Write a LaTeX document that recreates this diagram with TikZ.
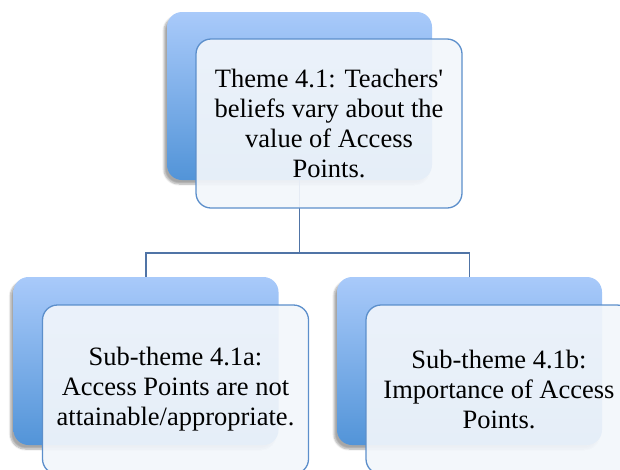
\documentclass[tikz,border=0pt]{standalone}
\usepackage{fontspec}
\setmainfont{Liberation Serif}
\usepackage{tikz}
\usetikzlibrary {positioning,
                 shadows.blur}
\definecolor{backtop}{RGB}{169,202,250}
\definecolor{backbottom}{RGB}{82,148,216}
\definecolor{frontfill}{RGB}{242,246,251}
\definecolor{frontline}{RGB}{92,143,203}
\definecolor{connline}{RGB}{80,116,166}
\tikzset{
        base/.style={rounded corners=15pt, inner sep=0pt,
                     minimum width=265pt, minimum height=168pt},
        backbox/.style={base, top color=backtop, bottom color=backbottom,
                        blur shadow={shadow xshift=-3pt, shadow yshift=-4pt,
                                     shadow opacity=35, shadow blur steps=8}},
        frontbox/.style={base, minimum width=266pt, minimum height=169pt,
                         draw=frontline, line width=1.3pt,
                         fill=frontfill, fill opacity=0.92, text opacity=1,
                         align=center, font=\fontsize{26.5}{30}\selectfont},
        conn/.style={draw=connline, line width=1.6pt},
 }
\begin{document}
\begin{tikzpicture}[x=1pt, y=-1pt]
    \useasboundingbox (0,0) rectangle (620,469);

    \node[backbox] (tb) at (299.5,96) {};
    \node[backbox] (lb) at (146,361) {};
    \node[backbox] (rb) at (469.5,361) {};

    \draw[conn] (tb.south) -- ++(0,73) coordinate (split) -| (lb.north);
    \draw[conn] (split) -| (rb.north);

    \node[frontbox] (t) at (329,123.5) {Theme 4.1: Teachers\textquotesingle\\ beliefs vary about the\\ value of Access\\ Points.};
    \node[frontbox] (l) at (175.5,389.5) {Sub-theme 4.1a:\\ Access Points are not\\ attainable/appropriate.};
    \node[frontbox] (r) at (499,389.5) {Sub-theme 4.1b:\\ Importance of Access\\ Points.};
\end{tikzpicture}
\end{document}
